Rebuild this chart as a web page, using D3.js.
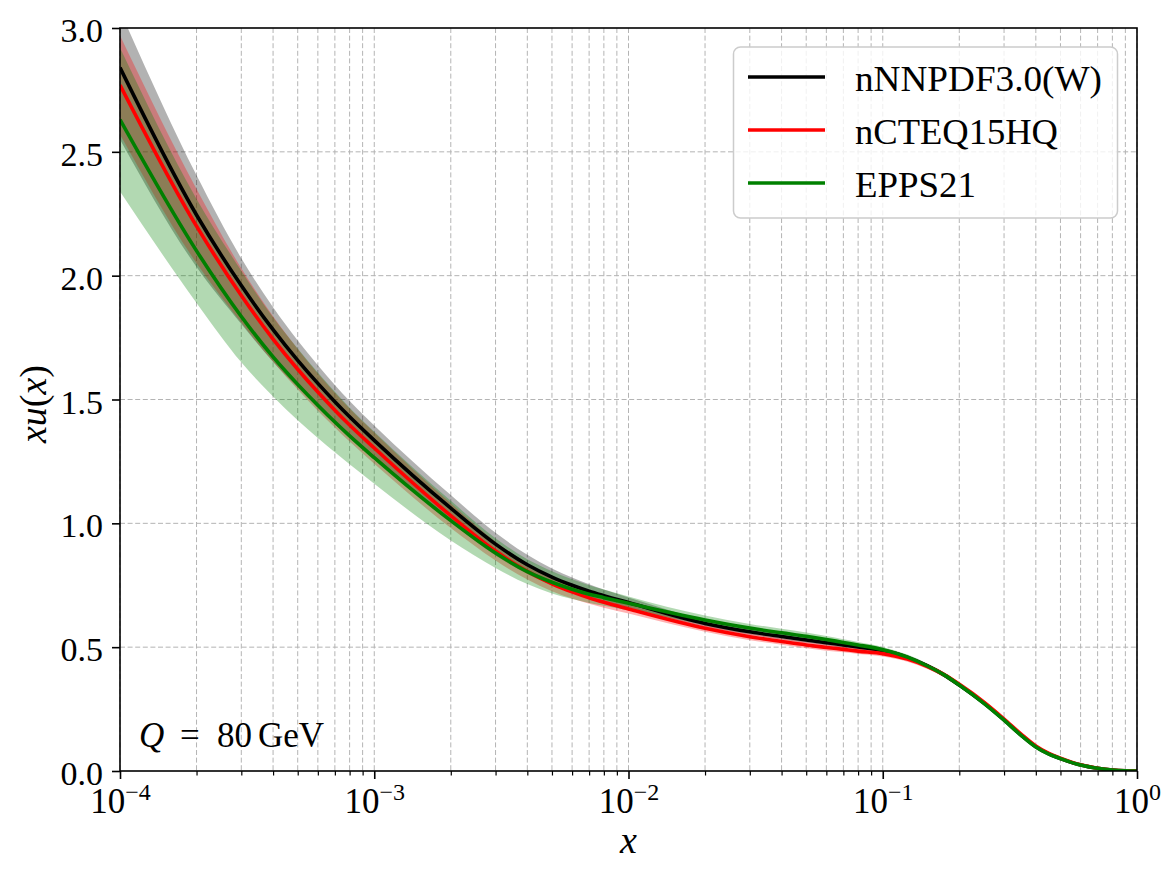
<!DOCTYPE html>
<html><head><meta charset="utf-8">
<script src="https://cdn.jsdelivr.net/npm/d3@7"></script>
<style>
body{margin:0;background:#fff}
svg{display:block}
text{font-family:'Liberation Serif','DejaVu Serif',serif;fill:#000}
</style>
</head><body>
<svg id="chart" width="1176" height="876"></svg>
<script>
// ---------- data ----------
const xValues = [1e-4, 2e-4, 3e-4, 4e-4, 5e-4, 6e-4, 7e-4, 8e-4, 1e-3, 2e-3, 3e-3, 4e-3, 5e-3, 6e-3, 7e-3, 8e-3,
  1e-2, 2e-2, 3e-2, 4e-2, 5e-2, 6e-2, 7e-2, 8e-2, 0.1, 0.125, 0.15, 0.175, 0.2, 0.25, 0.3, 0.35, 0.4, 0.45, 0.5, 0.6, 0.7, 0.8, 0.9, 1.0];

const nnpdfCentral = [2.84, 2.245, 1.96, 1.782, 1.658, 1.565, 1.491, 1.43, 1.335, 1.061, 0.916, 0.833, 0.783, 0.750, 0.726, 0.708,
  0.680, 0.596, 0.562, 0.543, 0.529, 0.518, 0.509, 0.501, 0.487, 0.459, 0.424, 0.387, 0.347, 0.274, 0.206, 0.145, 0.098, 0.069, 0.050, 0.024, 0.011, 0.004, 0.001, 0.0];
const nnpdfErrUp = [0.23, 0.16, 0.11, 0.09, 0.08, 0.073, 0.068, 0.064, 0.06, 0.053, 0.046, 0.04, 0.035, 0.031, 0.028, 0.025,
  0.021, 0.014, 0.013, 0.012, 0.011, 0.011, 0.011, 0.010, 0.010, 0.009, 0.009, 0.009, 0.009, 0.008, 0.007, 0.006, 0.005, 0.004, 0.003, 0.002, 0.001, 0.0005, 0.0002, 0];
const nnpdfErrDown = [0.29, 0.21, 0.155, 0.13, 0.11, 0.098, 0.09, 0.083, 0.073, 0.056, 0.046, 0.038, 0.032, 0.029, 0.026, 0.023,
  0.02, 0.014, 0.012, 0.012, 0.011, 0.011, 0.011, 0.010, 0.010, 0.009, 0.009, 0.009, 0.009, 0.008, 0.007, 0.006, 0.005, 0.004, 0.003, 0.002, 0.001, 0.0005, 0.0002, 0];

const ncteqCentral = [2.77, 2.20, 1.92, 1.744, 1.622, 1.53, 1.457, 1.397, 1.304, 1.031, 0.888, 0.806, 0.756, 0.723, 0.699, 0.681,
  0.654, 0.576, 0.542, 0.523, 0.509, 0.499, 0.491, 0.484, 0.474, 0.452, 0.422, 0.388, 0.350, 0.278, 0.210, 0.149, 0.101, 0.071, 0.052, 0.025, 0.011, 0.004, 0.001, 0.0];
const ncteqErr = [0.20, 0.15, 0.11, 0.092, 0.082, 0.075, 0.07, 0.067, 0.063, 0.05, 0.038, 0.033, 0.03, 0.027, 0.024, 0.022,
  0.018, 0.014, 0.014, 0.013, 0.013, 0.013, 0.012, 0.012, 0.012, 0.011, 0.010, 0.010, 0.009, 0.009, 0.008, 0.007, 0.006, 0.005, 0.004, 0.002, 0.001, 0.0005, 0.0002, 0];

const eppsCentral = [2.63, 2.10, 1.835, 1.672, 1.561, 1.477, 1.409, 1.353, 1.265, 1.011, 0.88, 0.805, 0.762, 0.734, 0.714, 0.70,
  0.677, 0.61, 0.577, 0.558, 0.544, 0.531, 0.519, 0.509, 0.49, 0.46, 0.424, 0.387, 0.347, 0.273, 0.205, 0.144, 0.097, 0.068, 0.050, 0.024, 0.011, 0.004, 0.001, 0.0];
const eppsErr = [0.29, 0.21, 0.185, 0.16, 0.145, 0.132, 0.122, 0.114, 0.105, 0.08, 0.06, 0.05, 0.045, 0.04, 0.036, 0.033,
  0.028, 0.018, 0.017, 0.016, 0.015, 0.014, 0.013, 0.012, 0.011, 0.010, 0.009, 0.009, 0.008, 0.007, 0.006, 0.005, 0.004, 0.003, 0.003, 0.002, 0.001, 0.0005, 0.0002, 0];

const seriesNames = ['nNNPDF3.0(W)', 'nCTEQ15HQ', 'EPPS21'];
const seriesColors = ['#000000', '#ff0000', '#008000'];

const xMajorTicks = [1e-4, 1e-3, 1e-2, 1e-1, 1];
const xTickExponents = ['\u22124', '\u22123', '\u22122', '\u22121', '0'];
const yTicks = [0, 0.5, 1.0, 1.5, 2.0, 2.5, 3.0];

// ---------- layout ----------
const L = 120, R = 1137, T = 28, B = 771;
const svg = d3.select('#chart');
const x = d3.scaleLog().domain([1e-4, 1]).range([L, R]);
const y = d3.scaleLinear().domain([0, 3]).range([B, T]);

const minorX = [];
for (let e = -4; e < 0; e++) for (let m = 2; m <= 9; m++) minorX.push(+(m * Math.pow(10, e)).toPrecision(3));

svg.append('defs').append('clipPath').attr('id', 'clip')
  .append('rect').attr('x', L).attr('y', T).attr('width', R - L).attr('height', B - T);

// grid
const grid = svg.append('g').attr('stroke', '#b4b4b4').attr('stroke-width', 1).attr('stroke-dasharray', '5,2.6');
grid.selectAll('line.vx').data(xMajorTicks.concat(minorX)).join('line')
  .attr('x1', d => x(d)).attr('x2', d => x(d)).attr('y1', T).attr('y2', B);
grid.selectAll('line.hy').data(yTicks.slice(1, -1)).join('line')
  .attr('x1', L).attr('x2', R).attr('y1', d => y(d)).attr('y2', d => y(d));

// series
const series = [
  {name: seriesNames[0], color: seriesColors[0], c: nnpdfCentral, up: nnpdfErrUp, dn: nnpdfErrDown},
  {name: seriesNames[1], color: seriesColors[1], c: ncteqCentral, up: ncteqErr, dn: ncteqErr},
  {name: seriesNames[2], color: seriesColors[2], c: eppsCentral, up: eppsErr, dn: eppsErr}
];
const plot = svg.append('g').attr('clip-path', 'url(#clip)');
const area = d3.area().curve(d3.curveMonotoneX).x(d => x(d.x)).y0(d => y(d.lo)).y1(d => y(d.hi));
const line = d3.line().curve(d3.curveMonotoneX).x(d => x(d.x)).y(d => y(d.c));
series.forEach(s => {
  const pts = xValues.map((xv, i) => ({x: xv, c: s.c[i], lo: s.c[i] - s.dn[i], hi: s.c[i] + s.up[i]}));
  plot.append('path').datum(pts).attr('d', area).attr('fill', s.color).attr('fill-opacity', 0.3).attr('stroke', 'none');
});
series.forEach(s => {
  const pts = xValues.map((xv, i) => ({x: xv, c: s.c[i]}));
  plot.append('path').datum(pts).attr('d', line).attr('fill', 'none').attr('stroke', s.color)
    .attr('stroke-width', 3.6).attr('stroke-linejoin', 'round');
});

// axes
const xAxisMajor = svg.append('g').attr('transform', `translate(0,${B})`)
  .call(d3.axisBottom(x).tickValues(xMajorTicks).tickSize(8).tickFormat(() => ''));
const xAxisMinor = svg.append('g').attr('transform', `translate(0,${B})`)
  .call(d3.axisBottom(x).tickValues(minorX).tickSize(4.5).tickFormat(() => ''));
[xAxisMajor, xAxisMinor].forEach(g => { g.select('.domain').remove(); });
xAxisMajor.selectAll('.tick line').attr('stroke', '#000').attr('stroke-width', 1.6);
xAxisMinor.selectAll('.tick line').attr('stroke', '#000').attr('stroke-width', 1.2);
xAxisMajor.selectAll('.tick').each(function(d, i) {
  const t = d3.select(this).append('text').attr('y', 42).attr('text-anchor', 'middle')
    .attr('font-size', 35).attr('fill', '#000');
  t.append('tspan').text('10');
  t.append('tspan').attr('dy', -13).attr('font-size', 24).text(xTickExponents[i]);
});

const yAxis = svg.append('g').attr('transform', `translate(${L},0)`)
  .call(d3.axisLeft(y).tickValues(yTicks).tickSize(8).tickPadding(9).tickFormat(d3.format('.1f')));
yAxis.select('.domain').remove();
yAxis.selectAll('.tick line').attr('stroke', '#000').attr('stroke-width', 1.6);
yAxis.selectAll('.tick text').attr('font-size', 34).attr('font-family', "'Liberation Serif','DejaVu Serif',serif")
  .attr('dy', '0.4em').attr('fill', '#000');

// frame
svg.append('rect').attr('x', L).attr('y', T).attr('width', R - L).attr('height', B - T)
  .attr('fill', 'none').attr('stroke', '#000').attr('stroke-width', 1.6);

// axis labels
svg.append('text').attr('x', (L + R) / 2).attr('y', 853).attr('text-anchor', 'middle')
  .attr('font-size', 38).attr('font-style', 'italic').text('x');
const yl = svg.append('text').attr('transform', 'translate(46,404) rotate(-90)').attr('text-anchor', 'middle').attr('font-size', 38);
yl.append('tspan').attr('font-style', 'italic').text('xu');
yl.append('tspan').text('(');
yl.append('tspan').attr('font-style', 'italic').text('x');
yl.append('tspan').text(')');

// annotation
const ann = svg.append('g').attr('font-size', 35);
ann.append('text').attr('x', 139).attr('y', 747).attr('font-style', 'italic').text('Q');
ann.append('text').attr('x', 180).attr('y', 747).text('=');
ann.append('text').attr('x', 217).attr('y', 747).text('80');
ann.append('text').attr('x', 258).attr('y', 747).attr('textLength', 66).text('GeV');

// legend
const lg = svg.append('g');
lg.append('rect').attr('x', 733.5).attr('y', 47).attr('width', 384).attr('height', 171).attr('rx', 7)
  .attr('fill', '#fff').attr('fill-opacity', 0.8).attr('stroke', '#cccccc').attr('stroke-width', 1.5);
const legendY = [77, 130, 183];
const legendW = [247, 203, 121];
series.forEach((s, i) => {
  lg.append('line').attr('x1', 748).attr('x2', 825).attr('y1', legendY[i]).attr('y2', legendY[i])
    .attr('stroke', s.color).attr('stroke-width', 3.6);
  lg.append('text').attr('x', 855).attr('y', legendY[i] + 13.5).attr('font-size', 36)
    .attr('textLength', legendW[i]).attr('lengthAdjust', 'spacingAndGlyphs').text(s.name);
});
</script>
</body></html>
